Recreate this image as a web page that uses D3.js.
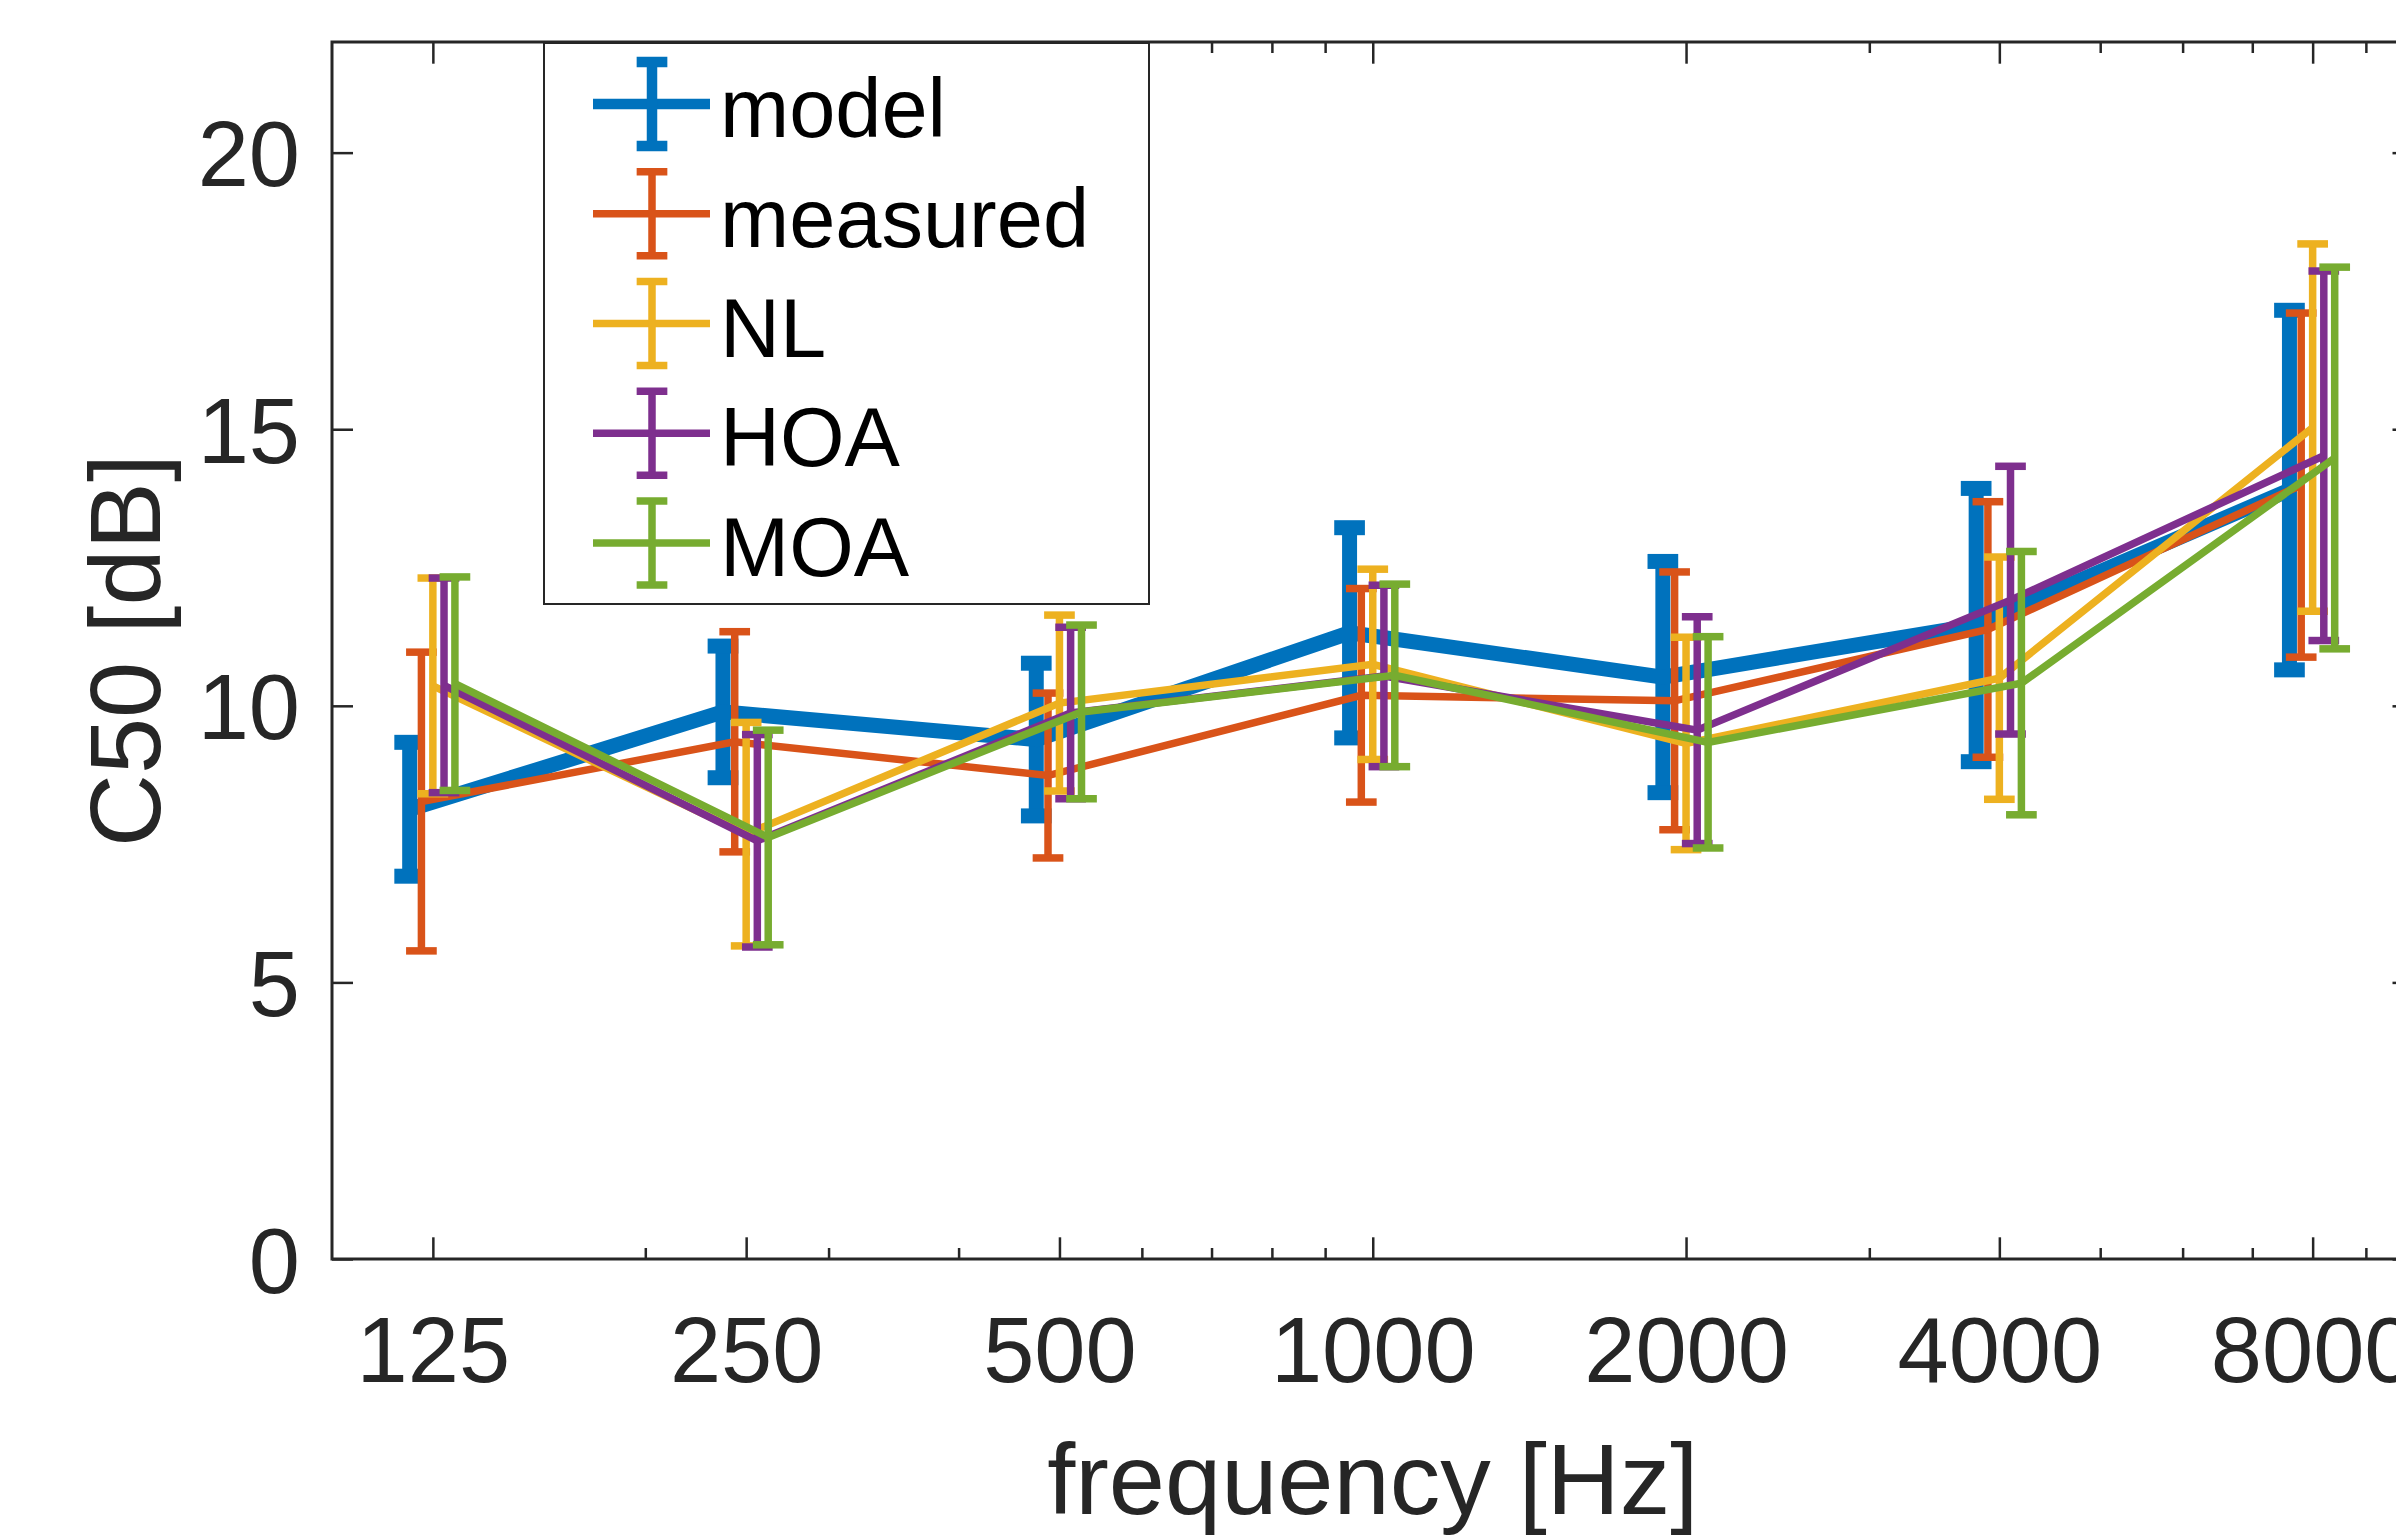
<!DOCTYPE html>
<html>
<head>
<meta charset="utf-8">
<script src="https://cdn.jsdelivr.net/npm/d3@7"></script>
<style>
body { margin: 0; background: #fff; }
text { font-family: "Liberation Sans", Arial, Helvetica, sans-serif; }
</style>
</head>
<body>
<svg id="chart"></svg>
<script>
// octave band centres and the log minor ticks between them
const frequencies = [125, 250, 500, 1000, 2000, 4000, 8000];
const minorFreqs = [200, 300, 400, 600, 700, 800, 900, 3000, 5000, 6000, 7000, 9000];
const yTicks = [0, 5, 10, 15, 20];

const seriesNames = ["model", "measured", "NL", "HOA", "MOA"];

const modelMean = [8.13, 9.89, 9.39, 11.32, 10.52, 11.46, 13.90];
const modelErr = [1.21, 1.19, 1.38, 1.90, 2.09, 2.47, 3.25];
const measuredMean = [8.27, 9.35, 8.74, 10.19, 10.09, 11.38, 13.99];
const measuredErr = [2.70, 1.99, 1.49, 1.93, 2.33, 2.31, 3.11];
const nlMean = [10.36, 7.68, 10.05, 10.75, 9.32, 10.50, 15.03];
const nlErr = [1.95, 2.02, 1.59, 1.72, 1.92, 2.19, 3.32];
const hoaMean = [10.37, 7.56, 9.87, 10.54, 9.56, 11.91, 14.52];
const hoaErr = [1.94, 1.92, 1.55, 1.64, 2.05, 2.42, 3.34];
const moaMean = [10.40, 7.62, 9.89, 10.55, 9.34, 10.41, 14.48];
const moaErr = [1.93, 1.94, 1.57, 1.65, 1.91, 2.38, 3.45];

// each series is nudged a little along the frequency axis
const xShift = [0.95, 0.975, 1, 1.025, 1.05];

const series = [
    { name: seriesNames[0], mean: modelMean, err: modelErr },
    { name: seriesNames[1], mean: measuredMean, err: measuredErr },
    { name: seriesNames[2], mean: nlMean, err: nlErr },
    { name: seriesNames[3], mean: hoaMean, err: hoaErr },
    { name: seriesNames[4], mean: moaMean, err: moaErr }
];

const colors = ["#0072BD", "#D95319", "#EDB120", "#7E2F8E", "#77AC30"];
const lineWidths = [15, 7.5, 7.5, 7.5, 7.5];
const legendWidths = [10.5, 7.5, 7.5, 7.5, 7.5];

const width = 2396;
const height = 1536;
const plotLeft = 332, plotRight = 2413.5, plotTop = 42, plotBottom = 1259;
const axisColor = "#262626";
const tickFont = 92;
const labelFont = 101;
const legendFont = 83;
const capHalf = 15.35;

const svg = d3.select("#chart")
    .attr("width", width)
    .attr("height", height);

svg.append("rect")
    .attr("width", width)
    .attr("height", height)
    .attr("fill", "#fff");

const x = d3.scaleLog().domain([100, 10000]).range([plotLeft, plotRight]);
const y = d3.scaleLinear().domain([0, 22]).range([plotBottom, plotTop]);

// axes: ticks point inward on all four sides
function styleAxis(g) {
    g.select(".domain").remove();
    g.selectAll(".tick line").attr("stroke", axisColor).attr("stroke-width", 2.5);
}

svg.append("g")
    .attr("transform", `translate(0,${plotBottom})`)
    .call(d3.axisBottom(x).tickValues(frequencies).tickSize(-21.7).tickPadding(0).tickFormat(d3.format("d")))
    .call(styleAxis)
    .call(g => g.selectAll(".tick text")
        .attr("y", 123)
        .attr("dy", 0)
        .attr("fill", axisColor)
        .attr("font-size", tickFont));

svg.append("g")
    .attr("transform", `translate(0,${plotBottom})`)
    .call(d3.axisBottom(x).tickValues(minorFreqs).tickSize(-11).tickFormat(""))
    .call(styleAxis);

svg.append("g")
    .attr("transform", `translate(0,${plotTop})`)
    .call(d3.axisTop(x).tickValues(frequencies).tickSize(-21.7).tickFormat(""))
    .call(styleAxis);

svg.append("g")
    .attr("transform", `translate(0,${plotTop})`)
    .call(d3.axisTop(x).tickValues(minorFreqs).tickSize(-11).tickFormat(""))
    .call(styleAxis);

svg.append("g")
    .attr("transform", `translate(${plotLeft},0)`)
    .call(d3.axisLeft(y).tickValues(yTicks).tickSize(-21).tickPadding(0))
    .call(styleAxis)
    .call(g => g.selectAll(".tick text")
        .attr("x", -32)
        .attr("dy", "0.36em")
        .attr("fill", axisColor)
        .attr("font-size", tickFont));

svg.append("g")
    .attr("transform", `translate(${plotRight},0)`)
    .call(d3.axisRight(y).tickValues(yTicks).tickSize(-21).tickFormat(""))
    .call(styleAxis);

svg.append("rect")
    .attr("x", plotLeft)
    .attr("y", plotTop)
    .attr("width", plotRight - plotLeft)
    .attr("height", plotBottom - plotTop)
    .attr("fill", "none")
    .attr("stroke", axisColor)
    .attr("stroke-width", 3);

svg.append("text")
    .attr("x", (plotLeft + plotRight) / 2)
    .attr("y", 1514)
    .attr("text-anchor", "middle")
    .attr("font-size", labelFont)
    .attr("fill", axisColor)
    .text("frequency [Hz]");

svg.append("text")
    .attr("transform", `translate(160,${(plotTop + plotBottom) / 2}) rotate(-90)`)
    .attr("text-anchor", "middle")
    .attr("font-size", labelFont)
    .attr("fill", axisColor)
    .text("C50 [dB]");

// error bar series
const line = d3.line()
    .x(d => x(d.f))
    .y(d => y(d.v));

series.forEach((s, i) => {
    let pts = frequencies.map((f, j) => ({
        f: f * xShift[i],
        v: s.mean[j],
        lo: s.mean[j] - s.err[j],
        hi: s.mean[j] + s.err[j]
    }));
    let g = svg.append("g")
        .attr("stroke", colors[i])
        .attr("stroke-width", lineWidths[i])
        .attr("fill", "none");

    g.selectAll("line.bar")
        .data(pts)
        .enter().append("line")
        .attr("class", "bar")
        .attr("x1", d => x(d.f))
        .attr("x2", d => x(d.f))
        .attr("y1", d => y(d.lo))
        .attr("y2", d => y(d.hi));

    g.selectAll("line.capLo")
        .data(pts)
        .enter().append("line")
        .attr("class", "capLo")
        .attr("x1", d => x(d.f) - capHalf)
        .attr("x2", d => x(d.f) + capHalf)
        .attr("y1", d => y(d.lo))
        .attr("y2", d => y(d.lo));

    g.selectAll("line.capHi")
        .data(pts)
        .enter().append("line")
        .attr("class", "capHi")
        .attr("x1", d => x(d.f) - capHalf)
        .attr("x2", d => x(d.f) + capHalf)
        .attr("y1", d => y(d.hi))
        .attr("y2", d => y(d.hi));

    g.append("path")
        .attr("d", line(pts))
        .attr("stroke-linejoin", "miter");
});

// legend
const legendBox = { x: 544, y: 43, w: 605, h: 561 };
svg.append("rect")
    .attr("x", legendBox.x)
    .attr("y", legendBox.y)
    .attr("width", legendBox.w)
    .attr("height", legendBox.h)
    .attr("fill", "#fff")
    .attr("stroke", axisColor)
    .attr("stroke-width", 2);

const legendRows = svg.selectAll("g.legendRow")
    .data(seriesNames)
    .enter().append("g")
    .attr("class", "legendRow")
    .attr("transform", (d, i) => `translate(0,${104 + i * 109.75})`);

legendRows.each(function(d, i) {
    let row = d3.select(this);
    let sw = row.append("g")
        .attr("stroke", colors[i])
        .attr("stroke-width", legendWidths[i]);
    sw.append("line").attr("x1", 593).attr("x2", 710).attr("y1", 0).attr("y2", 0);
    sw.append("line").attr("x1", 652).attr("x2", 652).attr("y1", -42).attr("y2", 42);
    sw.append("line").attr("x1", 652 - capHalf).attr("x2", 652 + capHalf).attr("y1", -42).attr("y2", -42);
    sw.append("line").attr("x1", 652 - capHalf).attr("x2", 652 + capHalf).attr("y1", 42).attr("y2", 42);
    row.append("text")
        .attr("x", 720)
        .attr("y", 33)
        .attr("font-size", legendFont)
        .attr("fill", "#000")
        .text(d);
});
</script>
</body>
</html>
